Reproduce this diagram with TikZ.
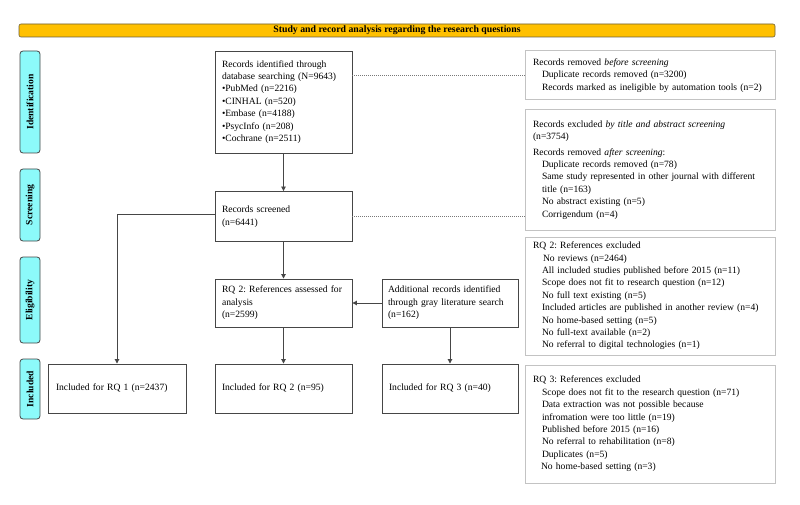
\documentclass[tikz,border=0pt]{standalone}
\usepackage{fontspec}
\setmainfont{Liberation Serif}
\usetikzlibrary{arrows.meta,calc}
\definecolor{labcyan}{RGB}{140,250,250}
\definecolor{bannergold}{RGB}{255,192,0}
\definecolor{mainline}{RGB}{70,70,70}
\definecolor{lightline}{RGB}{195,195,195}
\definecolor{dotline}{RGB}{120,120,120}
\newcommand{\ind}{\hspace*{9pt}}
\frenchspacing
\begin{document}
\begin{tikzpicture}[x=1pt,y=-1pt,
  every node/.style={font=\fontsize{9.6}{12.4}\selectfont},
  mainbox/.style={draw=mainline, line width=0.9pt, fill=white, inner sep=0pt, align=left},
  sidebox/.style={draw=lightline, line width=1pt, fill=white, inner sep=0pt, align=left},
  labbox/.style={draw=mainline, line width=0.8pt, fill=labcyan, rounded corners=3pt, inner sep=0pt,
    minimum height=20pt, rotate=90, font=\fontsize{9.6}{12}\selectfont\bfseries},
  bannerbox/.style={draw=mainline!80!bannergold, line width=0.6pt, fill=bannergold, rounded corners=2pt,
    inner sep=0pt, font=\fontsize{9.8}{12}\selectfont\bfseries},
  arr/.style={draw=mainline, line width=0.9pt, -{Triangle[length=4.5pt,width=4.5pt]}},
  dotconn/.style={draw=dotline, line width=0.6pt, dash pattern=on 1pt off 1pt}
]
\useasboundingbox (0,0) rectangle (800,505);

% banner
\node[bannerbox, minimum width=756pt, minimum height=13pt] (banner) at (397,30.5)
  {Study and record analysis regarding the research questions};

% stage labels
\node[labbox, minimum width=102pt] (lid) at (30,102) {Identification};
\node[labbox, minimum width=72pt] (lsc) at (30,205) {Screening};
\node[labbox, minimum width=86pt] (lel) at (30,300) {Eligibility};
\node[labbox, minimum width=60pt] (lin) at (30,389) {Included};

% main boxes
\node[mainbox, minimum width=137pt, minimum height=102pt, text width=123pt] (ident) at (283.5,102)
  {Records identified through\\database searching (N=9643)\\•PubMed (n=2216)\\•CINHAL (n=520)\\•Embase (n=4188)\\•PsycInfo (n=208)\\•Cochrane (n=2511)};
\node[mainbox, minimum width=137pt, minimum height=50pt, text width=123pt] (screened) at (283.5,216.5)
  {Records screened\\(n=6441)};
\node[mainbox, minimum width=137pt, minimum height=48pt, text width=123pt] (rq2) at (283.5,303)
  {RQ 2: References assessed for\\analysis\\(n=2599)};
\node[mainbox, minimum width=136pt, minimum height=48pt, text width=124pt] (add) at (450,303)
  {Additional records identified\\through gray literature search\\(n=162)};
\node[mainbox, minimum width=138pt, minimum height=49pt, text width=122pt] (inc1) at (117,388.5)
  {Included for RQ 1 (n=2437)};
\node[mainbox, minimum width=137pt, minimum height=49pt, text width=123pt] (inc2) at (283.5,388.5)
  {Included for RQ 2 (n=95)};
\node[mainbox, minimum width=136pt, minimum height=49pt, text width=122pt] (inc3) at (450,388.5)
  {Included for RQ 3 (n=40)};

% side boxes
\node[sidebox, minimum width=250pt, minimum height=49pt, text width=234pt] (r1) at (650,75.5)
  {Records removed \textit{before screening}\\
   \ind Duplicate records removed (n=3200)\\
   \ind Records marked as ineligible by automation tools (n=2)};
\node[sidebox, minimum width=250pt, minimum height=120pt, text width=234pt] (r2) at (650,170)
  {Records excluded \textit{by title and abstract screening}\\
   (n=3754)\\[3pt]
   Records removed \textit{after screening}:\\
   \ind Duplicate records removed (n=78)\\
   \ind Same study represented in other journal with different\\
   \ind title (n=163)\\
   \ind No abstract existing (n=5)\\
   \ind Corrigendum (n=4)};
\node[sidebox, minimum width=250pt, minimum height=118pt, text width=234pt] (r3) at (650,296)
  {RQ 2: References excluded\\
   \ind\hspace*{1pt}No reviews (n=2464)\\
   \ind All included studies published before 2015 (n=11)\\
   \ind Scope does not fit to research question (n=12)\\
   \ind No full text existing (n=5)\\
   \ind Included articles are published in another review (n=4)\\
   \ind No home-based setting (n=5)\\
   \ind No full-text available (n=2)\\
   \ind No referral to digital technologies (n=1)};
\node[sidebox, minimum width=250pt, minimum height=118pt, text width=234pt] (r4) at (650,424)
  {RQ 3: References excluded\\
   \ind Scope does not fit to the research question (n=71)\\
   \ind Data extraction was not possible because\\
   \ind infromation were too little (n=19)\\
   \ind Published before 2015 (n=16)\\
   \ind No referral to rehabilitation (n=8)\\
   \ind Duplicates (n=5)\\
   \hspace*{8pt}No home-based setting (n=3)};

% connectors
\draw[arr] (ident.south) -- (screened.north);
\draw[arr] (screened.south) -- (rq2.north);
\draw[arr] (rq2.south) -- (inc2.north);
\draw[arr] (add.west) -- (rq2.east);
\draw[arr] (add.south) -- (inc3.north);
\draw[arr] ($(screened.west)+(0,-2)$) -| (inc1.north);
\draw[dotconn] (ident.east |- r1.west) -- (r1.west);
\draw[dotconn] (screened.east) -- (screened.east -| r2.west);
\end{tikzpicture}
\end{document}
